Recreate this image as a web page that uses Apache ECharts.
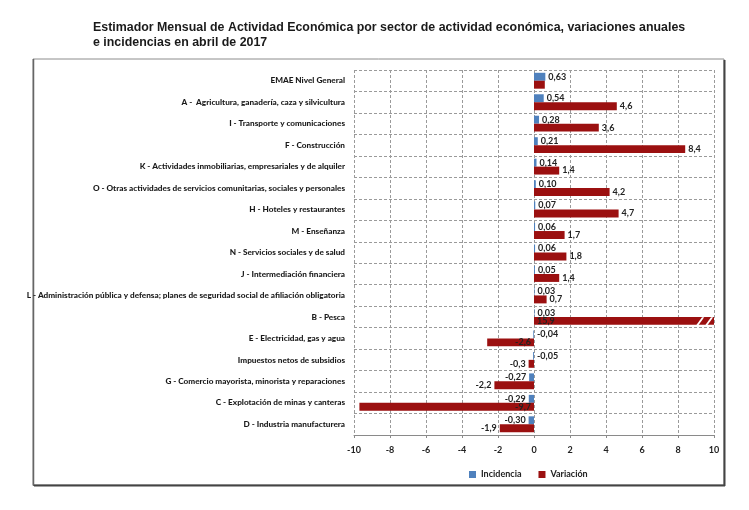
<!DOCTYPE html>
<html>
<head>
<meta charset="utf-8">
<script src="https://cdn.jsdelivr.net/npm/echarts@6/dist/echarts.min.js"></script>
<style>html,body{margin:0;padding:0;background:#fff;}#c{width:749px;height:510px;}</style>
</head>
<body>
<div id="c"></div>
<script>
const categories = [
  "EMAE Nivel General",
  "A -  Agricultura, ganadería, caza y silvicultura",
  "I - Transporte y comunicaciones",
  "F - Construcción",
  "K - Actividades inmobiliarias, empresariales y de alquiler",
  "O - Otras actividades de servicios comunitarias, sociales y personales",
  "H - Hoteles y restaurantes",
  "M - Enseñanza",
  "N - Servicios sociales y de salud",
  "J - Intermediación financiera",
  "L - Administración pública y defensa; planes de seguridad social de afiliación obligatoria",
  "B - Pesca",
  "E - Electricidad, gas y agua",
  "Impuestos netos de subsidios",
  "G - Comercio mayorista, minorista y reparaciones",
  "C - Explotación de minas y canteras",
  "D - Industria manufacturera"
];
const incidencia = [0.63, 0.54, 0.28, 0.21, 0.14, 0.10, 0.07, 0.06, 0.06, 0.05, 0.03, 0.03, -0.04, -0.05, -0.27, -0.29, -0.30];
const variacion = [0.6, 4.6, 3.6, 8.4, 1.4, 4.2, 4.7, 1.7, 1.8, 1.4, 0.7, 15.9, -2.6, -0.3, -2.2, -9.7, -1.9];
const xTicks = [-10, -8, -6, -4, -2, 0, 2, 4, 6, 8, 10];

// label placement overrides (styling, not data)
const incLabelPos = {12: 'right', 13: 'right'};
const varLabelPos = {0: 'none', 11: 'insideLeft', 12: 'insideRight', 15: 'insideRight'};

const fmt = (v, d) => v.toFixed(d).replace('.', ',');
const labelFont = {fontFamily: 'Lato, "Open Sans", sans-serif', fontWeight: 'bold', fontSize: 9, color: '#222'};

const incData = incidencia.map((v, i) => {
  const pos = incLabelPos[i] || (v >= 0 ? 'right' : 'left');
  return {value: v, label: {position: pos, distance: 3}};
});
const varData = variacion.map((v, i) => {
  const p = varLabelPos[i];
  if (p === 'none') return {value: v, label: {show: false}};
  const pos = p || (v >= 0 ? 'right' : 'left');
  return {value: v, label: {position: pos, distance: 3}};
});

const chart = echarts.init(document.getElementById('c'));
const option = {
  animation: false,
  backgroundColor: '#fff',
  title: {
    text: 'Estimador Mensual de Actividad Económica por sector de actividad económica, variaciones anuales\ne incidencias en abril de 2017',
    left: 88, top: 15,
    textStyle: {fontFamily: '"Liberation Sans", Arial, sans-serif', fontWeight: 'bold', fontSize: 12.4, lineHeight: 15, color: '#1a1a1a'}
  },
  legend: {
    bottom: 26, left: 464,
    itemWidth: 7, itemHeight: 7, itemGap: 17,
    icon: 'rect',
    textStyle: {fontFamily: 'Lato, "Open Sans", sans-serif', fontWeight: 'bold', fontSize: 9, color: '#222'},
    data: ['Incidencia', 'Variación']
  },
  grid: {left: 354, right: 35, top: 70, bottom: 75},
  xAxis: {
    type: 'value', min: -10, max: 10, interval: 2,
    axisLine: {show: true, lineStyle: {color: '#8a8a8a', width: 1}},
    axisTick: {show: true, length: 3, lineStyle: {color: '#8a8a8a'}},
    axisLabel: {margin: 11, fontFamily: 'Lato, "Open Sans", sans-serif', fontWeight: 'bold', fontSize: 9, color: '#222',
      formatter: v => xTicks.includes(v) ? String(v) : ''},
    splitLine: {show: true, lineStyle: {color: '#9a9a9a', type: [3, 2], width: 1}}
  },
  yAxis: {
    type: 'category', data: categories, inverse: true,
    axisLine: {show: false}, axisTick: {show: false},
    axisLabel: {margin: 9, fontFamily: 'Lato, "Open Sans", sans-serif', fontWeight: 900, fontSize: 8.2, color: '#1a1a1a'},
    splitLine: {show: true, lineStyle: {color: '#9a9a9a', type: [3, 2], width: 1}}
  },
  series: [
    {
      name: 'Incidencia', type: 'bar', data: incData,
      itemStyle: {color: '#4F81BD'},
      barGap: '0%', barCategoryGap: '26%',
      label: Object.assign({show: true, formatter: p => fmt(p.value, 2)}, labelFont)
    },
    {
      name: 'Variación', type: 'bar', data: varData,
      itemStyle: {color: '#9B1010'},
      barGap: '0%', barCategoryGap: '26%',
      label: Object.assign({show: true, formatter: p => fmt(p.value, 1)}, labelFont)
    }
  ]
};
chart.setOption(option);

// frame + break marks on the clipped Pesca bar
const bi = 11;
const yC = chart.convertToPixel({yAxisIndex: 0}, categories[bi]);
const band = chart.convertToPixel({yAxisIndex: 0}, categories[1]) - chart.convertToPixel({yAxisIndex: 0}, categories[0]);
const yTop = yC + 0.02 * band, yBot = yC + 0.40 * band;
const xa = chart.convertToPixel({xAxisIndex: 0}, 9.0);
const xb = chart.convertToPixel({xAxisIndex: 0}, 9.5);
const sw = 2.2, sl = 6;
function stripe(x) {
  return {type: 'polygon', shape: {points: [[x, yBot], [x + sw, yBot], [x + sw + sl, yTop], [x + sl, yTop]]}, style: {fill: '#fff'}, z: 100};
}
chart.setOption({
  graphic: [
    {type: 'rect', shape: {x: 33, y: 59, width: 691, height: 426}, style: {fill: 'none', stroke: '#8c8c8c', lineWidth: 1}, z: -1},
    {type: 'line', shape: {x1: 33.5, y1: 59, x2: 33.5, y2: 486}, style: {stroke: '#666', lineWidth: 1.5}, z: -1},
    {type: 'line', shape: {x1: 724.5, y1: 60, x2: 724.5, y2: 486}, style: {stroke: '#444', lineWidth: 2}, z: -1},
    {type: 'line', shape: {x1: 34, y1: 485.5, x2: 725, y2: 485.5}, style: {stroke: '#444', lineWidth: 2}, z: -1},
    stripe(xa), stripe(xb)
  ]
});
</script>
</body>
</html>
